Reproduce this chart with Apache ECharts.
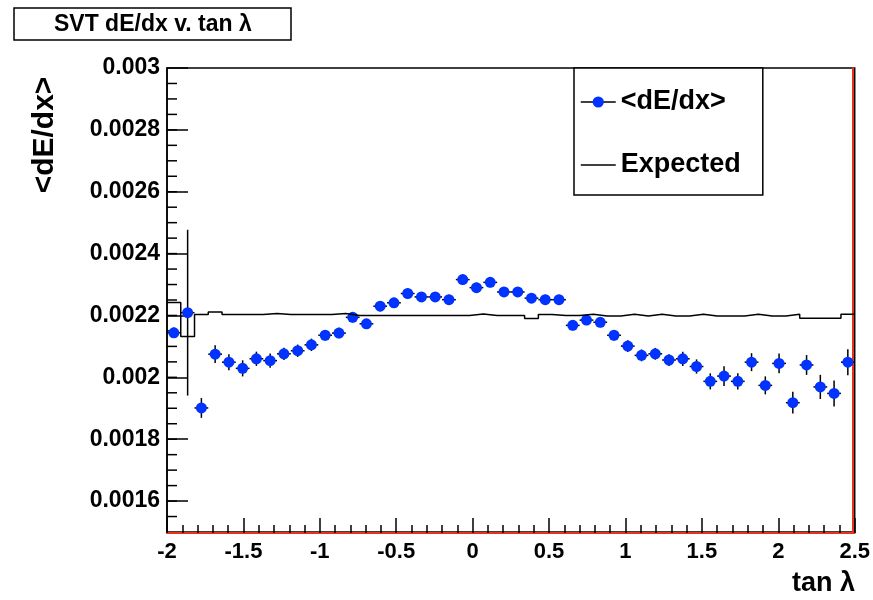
<!DOCTYPE html>
<html>
<head>
<meta charset="utf-8">
<script src="https://cdn.jsdelivr.net/npm/echarts@6/dist/echarts.min.js"></script>
<style>
  html, body { margin: 0; padding: 0; background: #fff; }
  #chart { width: 873px; height: 600px; }
</style>
</head>
<body>
<div id="chart"></div>
<script>
// 50 bins of tan(lambda) from -2 to 2.5
const binLow = -2;
const binWidth = 0.09;

const dedx = [
  0.002144, 0.002209, 0.001901, 0.002075, 0.002049, 0.002029, 0.002060, 0.002054, 0.002076, 0.002086,
  0.002105, 0.002136, 0.002143, 0.002194, 0.002173, 0.002230, 0.002241, 0.002271, 0.002260, 0.002260,
  0.002251, 0.002316, 0.002290, 0.002307, 0.002276, 0.002276, 0.002256, 0.002251, 0.002251, 0.002168,
  0.002185, 0.002178, 0.002136, 0.002101, 0.002071, 0.002076, 0.002056, 0.002060, 0.002035, 0.001987,
  0.002004, 0.001987, 0.002049, 0.001974, 0.002045, 0.001918, 0.002040, 0.001969, 0.001948, 0.002049
];

const dedxErr = [
  0.000017, 0.000268, 0.000032, 0.000029, 0.000026, 0.000026, 0.000023, 0.000023, 0.000020, 0.000020,
  0.000020, 0.000017, 0.000017, 0.000016, 0.000016, 0.000016, 0.000016, 0.000016, 0.000016, 0.000016,
  0.000016, 0.000016, 0.000016, 0.000016, 0.000016, 0.000016, 0.000016, 0.000016, 0.000016, 0.000016,
  0.000016, 0.000016, 0.000017, 0.000019, 0.000019, 0.000019, 0.000019, 0.000023, 0.000023, 0.000026,
  0.000032, 0.000026, 0.000029, 0.000029, 0.000032, 0.000035, 0.000032, 0.000039, 0.000042, 0.000042
];

const expected = [
  0.002242, 0.002132, 0.002203, 0.002211, 0.002203, 0.002203, 0.002203, 0.002206, 0.002203, 0.002203,
  0.002203, 0.002203, 0.002206, 0.002200, 0.002200, 0.002200, 0.002200, 0.002200, 0.002200, 0.002200,
  0.002200, 0.002200, 0.002205, 0.002200, 0.002200, 0.002200, 0.002190, 0.002203, 0.002200, 0.002200,
  0.002204, 0.002198, 0.002198, 0.002204, 0.002198, 0.002204, 0.002198, 0.002198, 0.002204, 0.002198,
  0.002198, 0.002198, 0.002204, 0.002198, 0.002198, 0.002204, 0.002191, 0.002191, 0.002191, 0.002204
];

const yTicks = [0.0016, 0.0018, 0.002, 0.0022, 0.0024, 0.0026, 0.0028, 0.003];

const FONT = '"Liberation Sans", Arial, Helvetica, sans-serif';

// y minor ticks every 0.00005 (drawn as short marks on the left axis)
const yMinor = [];
for (let i = 31; i < 60; i++) yMinor.push(i * 0.00005);

const centers = dedx.map((v, k) => binLow + binWidth * (k + 0.5));
const pointData = dedx.map((v, k) => [centers[k], v]);
const errData = dedx.map((v, k) => [centers[k], v, dedxErr[k]]);
const expData = expected.map((v, k) => [binLow + binWidth * k, v]);
expData.push([binLow + binWidth * expected.length, expected[expected.length - 1]]);

function renderErr(params, api) {
  const x = api.value(0), y = api.value(1), e = api.value(2);
  const top = api.coord([x, y + e]);
  const bot = api.coord([x, y - e]);
  const l = api.coord([x - binWidth / 2, y]);
  const r = api.coord([x + binWidth / 2, y]);
  return {
    type: 'group',
    children: [
      { type: 'line', shape: { x1: top[0], y1: top[1], x2: bot[0], y2: bot[1] }, style: { stroke: '#000', lineWidth: 1.5 } },
      { type: 'line', shape: { x1: l[0], y1: l[1], x2: r[0], y2: r[1] }, style: { stroke: '#000', lineWidth: 1.5 } }
    ]
  };
}

function renderMinor(params, api) {
  const p = api.coord([binLow, api.value(1)]);
  return {
    type: 'line',
    shape: { x1: p[0], y1: p[1], x2: p[0] + 10, y2: p[1] },
    style: { stroke: '#000', lineWidth: 1.5 }
  };
}

const chart = echarts.init(document.getElementById('chart'));
chart.setOption({
  animation: false,
  backgroundColor: '#fff',
  textStyle: { fontFamily: FONT },
  title: {
    text: 'SVT dE/dx v. tan λ',
    left: 14,
    top: 8,
    borderColor: '#000',
    borderWidth: 1.5,
    backgroundColor: '#fff',
    padding: [5, 40, 4, 40],
    textStyle: { fontFamily: FONT, fontSize: 23, fontWeight: 'bold', color: '#000', lineHeight: 23 }
  },
  legend: {
    left: 574,
    top: 68,
    orient: 'vertical',
    backgroundColor: '#fff',
    borderColor: '#000',
    borderWidth: 1.5,
    padding: [19, 22, 15, 6],
    itemWidth: 35,
    itemHeight: 14,
    itemGap: 33,
    textStyle: { fontFamily: FONT, fontSize: 27, fontWeight: 'bold', color: '#000', lineHeight: 30 },
    data: [
      { name: '<dE/dx>', itemStyle: { color: '#0033ff' }, lineStyle: { color: '#000', width: 1.5, opacity: 1 } },
      { name: 'Expected', itemStyle: { opacity: 0 }, lineStyle: { color: '#000', width: 1.5, opacity: 1 } }
    ]
  },
  grid: {
    left: 167,
    right: 16,
    top: 68,
    bottom: 68,
    show: true,
    borderColor: '#000',
    borderWidth: 1.5
  },
  xAxis: {
    type: 'value',
    min: -2,
    max: 2.5,
    interval: 0.5,
    offset: 1,
    axisLine: { onZero: false, lineStyle: { color: '#e8321c', width: 2 } },
    axisTick: { inside: true, length: 15, lineStyle: { color: '#000', width: 1.5 } },
    minorTick: { show: true, splitNumber: 5, length: 8, lineStyle: { color: '#000', width: 1.5 } },
    splitLine: { show: false },
    axisLabel: { fontFamily: FONT, fontSize: 22, fontWeight: 'bold', color: '#000', margin: 8 }
  },
  yAxis: [
    {
      type: 'value',
      min: 0.0015,
      max: 0.003,
      position: 'left',
      axisLine: { show: true, onZero: false, lineStyle: { color: '#000', width: 1.5 } },
      axisTick: { show: true, inside: true, length: 21, customValues: yTicks, lineStyle: { color: '#000', width: 1.5 } },
      axisLabel: { customValues: yTicks, fontFamily: FONT, fontSize: 23, fontWeight: 'bold', color: '#000', margin: 7 },
      splitLine: { show: false }
    },
    {
      type: 'value',
      min: 0.0015,
      max: 0.003,
      position: 'right',
      offset: -2,
      axisLine: { show: true, onZero: false, lineStyle: { color: '#e8321c', width: 2 } },
      axisTick: { show: false },
      axisLabel: { show: false },
      splitLine: { show: false }
    }
  ],
  graphic: [
    {
      type: 'text',
      x: 45,
      y: 135,
      rotation: Math.PI / 2,
      style: { text: '<dE/dx>', font: 'bold 30px ' + FONT, fill: '#000', align: 'center', verticalAlign: 'middle' }
    },
    {
      type: 'text',
      x: 855,
      y: 584,
      style: { text: 'tan λ', font: 'bold 27px ' + FONT, fill: '#000', align: 'right', verticalAlign: 'middle' }
    }
  ],
  series: [
    {
      name: 'yMinorTicks',
      type: 'custom',
      renderItem: renderMinor,
      data: yMinor.map(v => [binLow, v]),
      z: 1,
      silent: true
    },
    {
      name: 'errors',
      type: 'custom',
      renderItem: renderErr,
      data: errData,
      z: 2,
      silent: true
    },
    {
      name: '<dE/dx>',
      type: 'line',
      data: pointData,
      symbol: 'circle',
      symbolSize: 11,
      itemStyle: { color: '#0033ff' },
      lineStyle: { width: 0, opacity: 0 },
      z: 3
    },
    {
      name: 'Expected',
      type: 'line',
      step: 'end',
      data: expData,
      symbol: 'none',
      itemStyle: { color: '#000' },
      lineStyle: { color: '#000', width: 1.5 },
      z: 4
    }
  ]
});
</script>
</body>
</html>
